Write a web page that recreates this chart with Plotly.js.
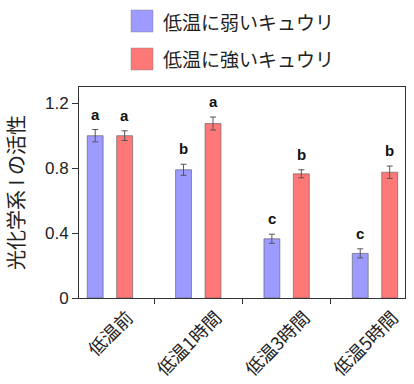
<!DOCTYPE html>
<html><head><meta charset="utf-8">
<script src="https://cdn.plot.ly/plotly-3.0.1.min.js"></script>
<style>body{margin:0;background:#fff}#c{width:414px;height:384px}</style>
</head><body><div id="c"></div>
<script>
var categories = ["低温前", "低温1時間", "低温3時間", "低温5時間"];
var seriesNames = ["低温に弱いキュウリ", "低温に強いキュウリ"];
var weakValues = [1.00, 0.79, 0.365, 0.275];
var weakErrors = [0.038, 0.034, 0.028, 0.028];
var strongValues = [1.00, 1.075, 0.765, 0.775];
var strongErrors = [0.03, 0.04, 0.025, 0.038];
var weakLetters = ["a", "b", "c", "c"];
var strongLetters = ["a", "a", "b", "b"];
var yTicks = [0, 0.4, 0.8, 1.2];
var yTickText = ["0", "0.4", "0.8", "1.2"];

var colors = ["#9d9bff", "#ff7878"];
var FONT = "Liberation Sans, Arial, Noto Sans CJK JP, sans-serif";
var JFONT = "Noto Sans CJK JP, Liberation Sans, sans-serif";

function bar(vals, errs, name, color) {
  return {
    type: "bar", x: categories, y: vals, name: name,
    marker: {color: color, line: {color: "rgba(90,90,90,0.6)", width: 1}},
    error_y: {type: "data", array: errs, visible: true, color: "#555", thickness: 1, width: 3},
    showlegend: false, hoverinfo: "none"
  };
}
var data = [bar(weakValues, weakErrors, seriesNames[0], colors[0]),
            bar(strongValues, strongErrors, seriesNames[1], colors[1])];

var pxPerCat = 88.3, off = 0.167 * pxPerCat;
var annotations = [];
categories.forEach(function(c, i) {
  annotations.push({x: c, y: weakValues[i] + weakErrors[i], xref: "x", yref: "y", xshift: -off, yshift: 5,
    yanchor: "bottom", text: weakLetters[i], showarrow: false, font: {family: FONT, size: 15, color: "#111", weight: "bold"}});
  annotations.push({x: c, y: strongValues[i] + strongErrors[i], xref: "x", yref: "y", xshift: off, yshift: 5,
    yanchor: "bottom", text: strongLetters[i], showarrow: false, font: {family: FONT, size: 15, color: "#111", weight: "bold"}});
});
// custom legend
var shapes = [];
var legY = [21, 59];
seriesNames.forEach(function(n, i) {
  shapes.push({type: "rect", xref: "paper", yref: "paper",
    x0: (131 - 79) / 326, x1: (153 - 79) / 326,
    y0: (298 - (legY[i] - 11)) / 211, y1: (298 - (legY[i] + 11)) / 211,
    fillcolor: colors[i], line: {color: "rgba(120,120,120,0.4)", width: 1}});
  annotations.push({xref: "paper", yref: "paper", x: (161 - 79) / 326, y: (298 - legY[i]) / 211,
    xanchor: "left", yanchor: "middle", text: n, showarrow: false,
    font: {family: JFONT, size: 19, color: "#222"}});
});

var layout = {
  width: 414, height: 384,
  margin: {l: 79, r: 9, t: 87, b: 86},
  paper_bgcolor: "#fff", plot_bgcolor: "#fff",
  barmode: "group", bargap: 0.333, bargroupgap: 0.46,
  xaxis: {type: "category", range: [-0.35, 3.34], tickson: "boundaries", ticks: "outside", ticklen: 5,
    tickcolor: "#333", showline: true, linecolor: "#333", linewidth: 1, mirror: true, showgrid: false,
    tickangle: -45, ticklabelshift: 18, ticklabelstandoff: 1, tickfont: {family: JFONT, size: 18, color: "#222"}, zeroline: false},
  yaxis: {range: [0, 1.3], tickvals: yTicks, ticktext: yTickText, ticks: "outside", ticklen: 6, tickcolor: "#333",
    showline: true, linecolor: "#333", linewidth: 1, mirror: true, showgrid: false, zeroline: false,
    tickfont: {family: FONT, size: 17, color: "#222"},
    title: {text: "光化学系 I の活性", font: {family: JFONT, size: 20, color: "#222"}, standoff: 14}},
  shapes: shapes, annotations: annotations, showlegend: false
};
Plotly.newPlot("c", data, layout, {displayModeBar: false, staticPlot: true});
</script></body></html>
